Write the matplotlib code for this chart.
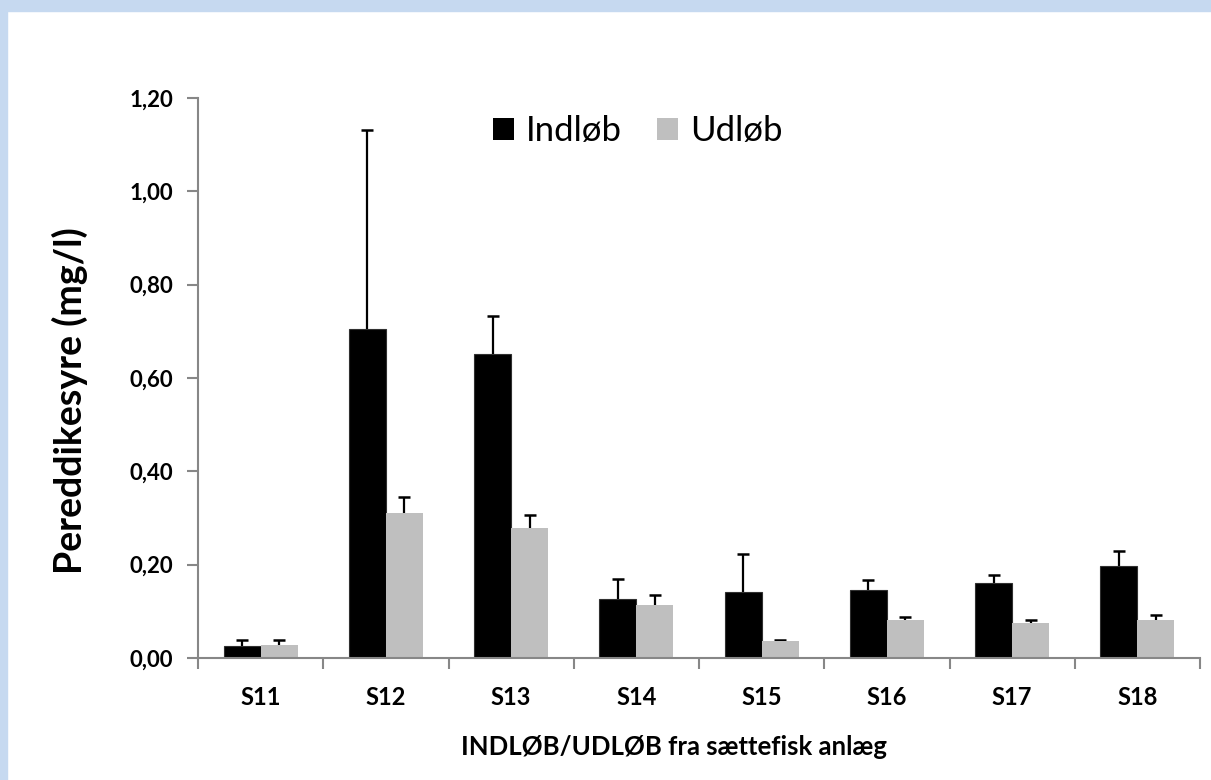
import matplotlib.pyplot as plt
from matplotlib.patches import Patch, Rectangle
import numpy as np

stations = ['S11', 'S12', 'S13', 'S14', 'S15', 'S16', 'S17', 'S18']
indlob = [0.026, 0.704, 0.651, 0.126, 0.142, 0.146, 0.160, 0.198]
indlob_err = [0.012, 0.427, 0.082, 0.044, 0.080, 0.021, 0.018, 0.032]
udlob = [0.028, 0.311, 0.279, 0.113, 0.036, 0.081, 0.074, 0.081]
udlob_err = [0.011, 0.034, 0.027, 0.023, 0.003, 0.007, 0.008, 0.011]

plt.rcParams['font.family'] = ['Lato', 'DejaVu Sans']
axis_grey = '#878787'

fig = plt.figure(figsize=(12.11, 7.80), dpi=100)
# light blue frame strips on the top and left edge
fig.patches.append(Rectangle((0, 1 - 11 / 780), 1, 11 / 780, transform=fig.transFigure,
                             color='#C6D9F0', zorder=0))
fig.patches.append(Rectangle((0, 0), 7 / 1211, 1, transform=fig.transFigure,
                             color='#C6D9F0', zorder=0))

ax = fig.add_axes([198 / 1211, 1 - 658 / 780, 1002 / 1211, 560 / 780])
x = np.arange(len(stations))
w = 0.295
ax.bar(x - w / 2, indlob, w, color='black', edgecolor='#303030', linewidth=0.8,
       label='Indløb', zorder=2)
ax.bar(x + w / 2, udlob, w, color='#BFBFBF', label='Udløb', zorder=2)
# error bars sit behind the bars so only the upper whisker shows
ax.errorbar(x - w / 2, indlob, yerr=indlob_err, fmt='none',
            ecolor='black', elinewidth=1.6, capsize=4.5, capthick=1.8, zorder=1)
ax.errorbar(x + w / 2, udlob, yerr=udlob_err, fmt='none',
            ecolor='black', elinewidth=1.6, capsize=4.5, capthick=1.8, zorder=1)

ax.set_xlim(-0.5, len(stations) - 0.5)
ax.set_ylim(0, 1.2)
ax.set_yticks(np.arange(0, 1.21, 0.2))
ax.set_yticklabels([f'{v:.2f}'.replace('.', ',') for v in np.arange(0, 1.21, 0.2)],
                   fontsize=16, fontweight='bold')
ax.set_xticks(x)
ax.set_xticklabels(stations, fontsize=17, fontweight='bold')
ax.set_xticks(np.arange(-0.5, len(stations)), minor=True)
ax.tick_params(axis='x', which='major', length=0, pad=20)
ax.tick_params(axis='x', which='minor', length=8, width=1.5, color=axis_grey)
ax.tick_params(axis='y', length=8, width=1.5, color=axis_grey, pad=10)

for s in ['top', 'right']:
    ax.spines[s].set_visible(False)
for s in ['left', 'bottom']:
    ax.spines[s].set_color(axis_grey)
    ax.spines[s].set_linewidth(1.5)

ax.set_ylabel('Pereddikesyre (mg/l)', fontsize=27, fontweight='bold', va='center')
ax.yaxis.set_label_coords(-0.128, 0.46)
ax.set_xlabel('INDLØB/UDLØB fra sættefisk anlæg', fontsize=18.5, fontweight='bold')
ax.xaxis.set_label_coords(0.475, -0.137)

handles = [Patch(facecolor='black'), Patch(facecolor='#BFBFBF')]
ax.legend(handles, ['Indløb', 'Udløb'], ncol=2, frameon=False, fontsize=25,
          loc='upper center', bbox_to_anchor=(0.439, 1.025), handlelength=0.6,
          handleheight=0.6, handletextpad=0.35, columnspacing=1.0)

fig.savefig('out.png', dpi=100)
